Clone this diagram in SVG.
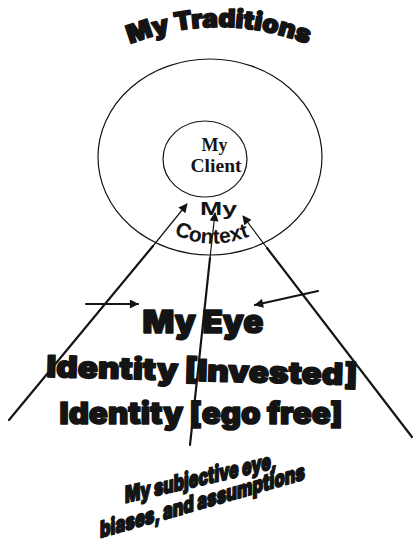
<svg xmlns="http://www.w3.org/2000/svg" width="413" height="545" viewBox="0 0 413 545">
  <style>
    .heavy { font-family: Inter, "Noto Sans", Lato, "DejaVu Sans", sans-serif; font-weight: 900; fill: #141414; stroke: #141414; stroke-width: 1.6; stroke-linejoin: round; }
    .bold { font-family: "Liberation Sans", Arial, sans-serif; font-weight: 700; fill: #141414; }
    .serif { font-family: "Liberation Serif", "Times New Roman", serif; font-weight: 700; fill: #141414; }
    .ring { fill: none; stroke: #141414; stroke-width: 1.2; }
    .thick { stroke: #141414; stroke-width: 2.2; fill: none; stroke-linecap: round; }
    .thin { stroke: #141414; stroke-width: 1.2; fill: none; }
  </style>
  <defs>
    <marker id="ah" viewBox="0 0 10 10" refX="9" refY="5" markerWidth="11" markerHeight="9" markerUnits="userSpaceOnUse" orient="auto">
      <path d="M0,0 L10,5 L0,10 z" fill="#141414"/>
    </marker>
    <path id="arcTitle" d="M128,45 Q218,9 310,45"/>
    <path id="arcContext" d="M172,233 Q218,258 274,224"/>
  </defs>
  <rect width="413" height="545" fill="#ffffff"/>

  <g id="title">
    <text class="heavy" font-size="25"><textPath href="#arcTitle" startOffset="50%" text-anchor="middle" textLength="182" lengthAdjust="spacingAndGlyphs">My Traditions</textPath></text>
  </g>

  <g id="context">
    <ellipse class="ring" cx="210" cy="157" rx="112" ry="98"/>
    <text class="bold" x="218.5" y="215" font-size="18" text-anchor="middle" textLength="37" lengthAdjust="spacingAndGlyphs">My</text>
    <text class="bold" font-size="21"><textPath href="#arcContext" startOffset="2">Context</textPath></text>
  </g>

  <g id="client">
    <ellipse class="ring" cx="205" cy="159" rx="42" ry="38"/>
    <text class="serif" x="214.5" y="151" font-size="18" text-anchor="middle">My</text>
    <text class="serif" x="216" y="172" font-size="18" text-anchor="middle" textLength="51" lengthAdjust="spacingAndGlyphs">Client</text>
  </g>

  <g id="connectors">
    <path class="thick" d="M9,420 L153,246"/>
    <path class="thin" d="M153,246 L187,204" marker-end="url(#ah)"/>
    <path class="thick" d="M190,445 L210,258"/>
    <path class="thin" d="M210,258 L215,213" marker-end="url(#ah)"/>
    <path class="thick" d="M412,437 L267,248"/>
    <path class="thin" d="M267,248 L243,216" marker-end="url(#ah)"/>
    <path class="thick" d="M86,304 L138,304" marker-end="url(#ah)"/>
    <path class="thick" d="M318,291 L255,305" marker-end="url(#ah)"/>
  </g>

  <g id="eye">
    <text class="heavy" x="203" y="333" font-size="32" text-anchor="middle" textLength="121" lengthAdjust="spacingAndGlyphs">My Eye</text>
  </g>

  <g id="identity-invested">
    <text class="heavy" x="202" y="381" font-size="30" text-anchor="middle" textLength="311" lengthAdjust="spacingAndGlyphs" transform="rotate(1.5 202 370)">Identity [Invested]</text>
  </g>

  <g id="identity-ego-free">
    <text class="heavy" x="201" y="424" font-size="30" text-anchor="middle" textLength="283" lengthAdjust="spacingAndGlyphs">Identity [ego free]</text>
  </g>

  <g id="subjective">
    <text class="heavy" font-size="23" transform="translate(125,503) skewY(-13)" x="0" y="0" textLength="152" lengthAdjust="spacingAndGlyphs">My subjective eye,</text>
    <text class="heavy" font-size="23" transform="translate(100,538) skewY(-16)" x="0" y="0" textLength="205" lengthAdjust="spacingAndGlyphs">biases, and assumptions</text>
  </g>
</svg>
